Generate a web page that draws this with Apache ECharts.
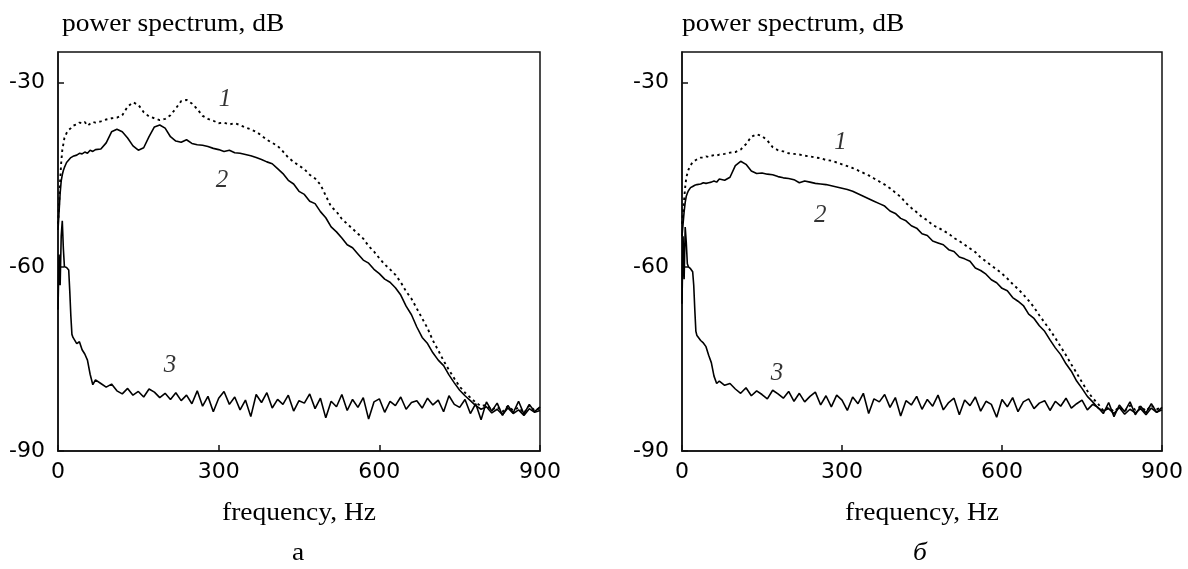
<!DOCTYPE html>
<html>
<head>
  <meta charset="utf-8">
  <title>power spectrum</title>
  <script src="https://cdn.jsdelivr.net/npm/echarts@6/dist/echarts.min.js"></script>
  <style>
    html, body { margin: 0; padding: 0; background: #fff; }
    #chart { width: 1188px; height: 569px; }
  </style>
</head>
<body>
<div id="chart"></div>
<script>
// частоты, Гц (мелкий шаг в начале, дальше через 10)
const freq = [0, 2, 4, 6, 8, 10, 12, 14, 16, 18, 20, 22, 24, 26, 28, 30, 35, 40, 45, 50, 55, 60, 65, 70,
  80, 90, 100, 110, 120, 130, 140, 150, 160, 170,
  180, 190, 200, 210, 220, 230, 240, 250, 260, 270,
  280, 290, 300, 310, 320, 330, 340, 350, 360, 370,
  380, 390, 400, 410, 420, 430, 440, 450, 460, 470,
  480, 490, 500, 510, 520, 530, 540, 550, 560, 570,
  580, 590, 600, 610, 620, 630, 640, 650, 660, 670,
  680, 690, 700, 710, 720, 730, 740, 750, 760, 770,
  780, 790, 800, 810, 820, 830, 840, 850, 860, 870,
  880, 890, 900];

// панель а
const a1 = [-53, -50, -46, -43, -41, -40, -39, -38.6, -38.2, -38, -37.7, -37.6, -37.4, -37.2, -37.0, -36.9, -36.8, -36.5, -36.6, -36.4, -37.0, -36.7, -36.4, -36.5,
  -36.3, -36.0, -35.8, -35.7, -35.3, -33.9, -33.2, -33.6, -34.8, -35.5,
  -35.8, -36.1, -35.9, -35.3, -34.2, -33.0, -32.8, -33.4, -34.3, -35.4,
  -35.9, -36.2, -36.6, -36.5, -36.8, -36.6, -36.9, -37.3, -37.6, -38.0,
  -38.6, -39.3, -39.8, -40.3, -41.2, -42.2, -42.9, -43.5, -44.1, -45.0,
  -45.6, -46.6, -48.4, -50.2, -51.0, -52.2, -53.0, -53.8, -54.6, -55.4,
  -56.6, -57.5, -58.6, -59.6, -60.4, -61.3, -62.5, -64.0, -65.2, -66.8,
  -68.4, -70.0, -72.0, -73.6, -75.3, -76.8, -78.2, -79.5, -80.5, -81.3,
  -82.1, -82.7, -82.5, -83.3, -82.8, -83.6, -82.7, -83.4, -82.9, -83.8,
  -82.6, -83.4, -83.0];
const a2 = [-54, -51, -48, -46, -45, -44.3, -43.8, -43.4, -43.0, -42.8, -42.6, -42.4, -42.2, -42.3, -42.0, -41.9, -41.8, -41.5, -41.6, -41.3, -41.5, -41.0, -41.2, -40.9,
  -40.8, -39.8, -38.0, -37.6, -38.0, -39.0, -40.3, -41.0, -40.6, -38.8,
  -37.2, -36.9, -37.4, -38.8, -39.5, -39.7, -39.3, -39.9, -40.1, -40.2,
  -40.4, -40.7, -40.9, -41.2, -41.0, -41.4, -41.5, -41.7, -41.9, -42.2,
  -42.5, -42.9, -43.2, -44.0, -44.8, -45.9, -46.5, -47.7, -48.2, -49.3,
  -49.7, -51.0, -52.0, -53.5, -54.3, -55.3, -56.4, -56.9, -57.9, -58.9,
  -59.4, -60.4, -61.1, -62.0, -62.5, -63.4, -64.6, -66.4, -67.8, -69.8,
  -71.5, -72.5, -74.0, -75.2, -76.1, -77.6, -78.9, -80.1, -81.0, -81.8,
  -82.6, -83.2, -82.8, -83.8, -83.2, -84.1, -83.0, -83.9, -83.3, -84.2,
  -83.1, -83.7, -83.4];
const a3 = [-67, -58, -63, -55, -52.5, -57, -60, -60.2, -60.1, -60.3, -60.5, -64, -68, -71, -71.5, -71.8, -72.5, -72.2, -73.5, -74.2, -75.2, -77.5, -79.2, -78.4,
  -79.0, -79.6, -79.1, -80.2, -80.7, -79.8, -80.9, -80.3, -81.2, -79.9,
  -80.4, -81.3, -80.6, -81.6, -80.5, -81.8, -80.9, -82.3, -80.2, -82.7,
  -81.1, -83.6, -81.4, -80.3, -82.4, -81.2, -83.3, -81.7, -84.4, -80.8,
  -82.1, -80.5, -83.0, -81.6, -82.4, -80.9, -83.5, -81.8, -82.2, -80.7,
  -83.1, -81.4, -84.6, -81.9, -82.8, -80.8, -83.4, -81.6, -82.9, -81.3,
  -84.8, -82.0, -81.5, -83.7, -81.9, -82.6, -81.2, -83.2, -82.1, -81.8,
  -83.0, -81.4, -82.5, -81.7, -83.6, -81.0, -82.4, -82.9, -81.6, -83.9,
  -82.3, -84.9, -82.0, -83.5, -82.2, -84.2, -82.6, -83.8, -81.9, -84.0,
  -82.4, -83.6, -82.8];

// панель б
const b1 = [-53, -51, -49, -47, -45.5, -44.8, -44.2, -43.8, -43.5, -43.2, -43.0, -42.8, -42.7, -42.6, -42.5, -42.4, -42.2, -42.2, -42.0, -42.1, -41.9, -41.8, -41.9, -41.7,
  -41.6, -41.4, -41.3, -40.9, -40.0, -38.8, -38.4, -38.7, -39.4, -40.5,
  -41.0, -41.2, -41.5, -41.6, -41.7, -41.9, -42.0, -42.2, -42.3, -42.6,
  -42.7, -43.0, -43.3, -43.6, -43.9, -44.3, -44.7, -45.1, -45.6, -46.1,
  -46.6, -47.2, -47.9, -48.6, -49.6, -50.4, -51.1, -51.9, -52.4, -53.2,
  -53.6, -54.1, -54.6, -55.3, -55.8, -56.4, -57.0, -57.6, -58.5, -59.1,
  -59.8, -60.4, -61.1, -61.9, -62.8, -63.6, -64.5, -65.5, -66.6, -67.9,
  -69.1, -70.3, -71.6, -73.0, -74.4, -75.9, -77.3, -78.8, -80.2, -81.4,
  -82.3, -83.4, -82.9, -83.6, -82.8, -83.5, -82.6, -83.3, -82.7, -83.5,
  -82.6, -83.2, -82.9];
const b2 = [-55, -53, -51, -49.5, -48.5, -48.0, -47.6, -47.3, -47.1, -47.0, -46.9, -46.8, -46.7, -46.6, -46.6, -46.5, -46.5, -46.3, -46.4, -46.3, -46.2, -46.0, -46.2, -45.7,
  -45.9, -45.4, -43.5, -42.8, -43.3, -44.4, -44.8, -44.7, -44.9, -45.0,
  -45.3, -45.5, -45.6, -45.8, -46.3, -46.0, -46.2, -46.4, -46.5, -46.6,
  -46.8, -47.0, -47.2, -47.4, -47.7, -48.1, -48.5, -48.9, -49.3, -49.7,
  -50.1, -50.9, -51.3, -52.1, -52.5, -53.3, -53.7, -54.6, -54.9, -55.8,
  -56.1, -56.4, -57.2, -57.5, -58.4, -58.7, -59.1, -60.2, -60.6, -61.2,
  -62.1, -62.6, -63.5, -63.9, -65.0, -65.6, -66.3, -67.7, -68.4, -69.6,
  -70.5, -71.9, -73.2, -74.3, -75.8, -77.0, -78.6, -79.8, -81.1, -82.0,
  -83.0, -83.5, -83.1, -83.9, -82.9, -84.0, -83.2, -83.8, -83.1, -84.1,
  -83.0, -83.7, -83.3];
const b3 = [-66, -55, -62, -53.5, -56, -59.5, -60, -60.1, -60.3, -60.4, -60.8, -63, -67, -70.5, -71.2, -71.5, -72.0, -72.4, -73.0, -74.4, -75.6, -77.8, -79.0, -78.6,
  -79.3, -79.0, -79.9, -80.6, -79.7, -81.0, -80.2, -80.8, -81.5, -80.1,
  -80.7, -81.4, -80.3, -81.9, -80.6, -82.0, -81.1, -80.4, -82.5, -81.0,
  -82.8, -80.9, -81.7, -83.4, -81.2, -82.3, -80.6, -83.9, -81.5, -82.0,
  -80.8, -82.9, -81.3, -84.3, -81.8, -82.5, -81.1, -83.2, -81.6, -82.7,
  -80.9, -83.3, -82.1, -81.4, -84.1, -81.7, -82.6, -81.2, -83.5, -81.9,
  -82.4, -84.5, -81.6, -82.8, -81.3, -83.6, -82.0, -81.5, -83.1, -82.2,
  -81.8, -83.4, -81.9, -82.7, -81.4, -83.0, -82.3, -81.7, -83.3, -82.4,
  -82.9, -83.9, -82.1, -84.4, -82.5, -83.6, -82.0, -84.1, -82.7, -83.8,
  -82.3, -83.7, -82.9];

// номера кривых: [частота, дБ, текст]
const marksA = [[312, -32.8, '1'], [306, -45.9, '2'], [209, -76.1, '3']];
const marksB = [[297, -39.7, '1'], [259, -51.6, '2'], [178, -77.4, '3']];

const yTicks = [-90, -60, -30];

function pairs(vals) {
  return freq.map(function (f, i) { return [f, vals[i]]; });
}

const grids = [
  { left: 58, top: 52, width: 482, height: 399 },
  { left: 682, top: 52, width: 480, height: 399 }
];

function xAxisFor(i) {
  return {
    gridIndex: i, type: 'value', min: 0, max: 900, interval: 300,
    axisLine: { show: true, lineStyle: { color: '#111', width: 1.5 } },
    axisTick: { show: true, inside: true, length: 6, lineStyle: { color: '#111', width: 1.5 } },
    axisLabel: { color: '#000', fontFamily: 'DejaVu Sans', fontSize: 22, margin: 10 },
    splitLine: { show: false }
  };
}
function yAxisFor(i) {
  return {
    gridIndex: i, type: 'value', min: -90, max: -25, interval: 30,
    axisLine: { show: true, lineStyle: { color: '#111', width: 1.5 } },
    axisTick: { show: true, inside: true, length: 6, lineStyle: { color: '#111', width: 1.5 } },
    axisLabel: {
      color: '#000', fontFamily: 'DejaVu Sans', fontSize: 22, margin: 13, showMaxLabel: false,
      formatter: function (v) { return yTicks.indexOf(v) >= 0 ? String(v) : ''; }
    },
    splitLine: { show: false }
  };
}

function solid(idx, vals) {
  return {
    type: 'line', xAxisIndex: idx, yAxisIndex: idx, data: pairs(vals),
    showSymbol: false, animation: false,
    lineStyle: { color: '#000', width: 1.6 }
  };
}
function dotted(idx, vals) {
  return {
    type: 'line', xAxisIndex: idx, yAxisIndex: idx, data: pairs(vals),
    showSymbol: false, animation: false,
    lineStyle: { color: '#000', width: 1.9, type: [2.5, 3.5] }
  };
}
function marks(idx, list) {
  return {
    type: 'scatter', xAxisIndex: idx, yAxisIndex: idx, data: list,
    symbolSize: 0, animation: false, silent: true,
    label: {
      show: true, position: 'inside', color: '#000',
      fontFamily: 'Liberation Serif', fontStyle: 'italic', fontSize: 25,
      formatter: function (p) { return p.value[2]; }
    }
  };
}

function txt(x, y, s, opts) {
  opts = opts || {};
  return {
    type: 'text', x: x, y: y, scaleX: opts.sx || 1.1, silent: true,
    style: {
      text: s, fill: '#000',
      font: (opts.italic ? 'italic ' : '') + (opts.size || 25) + 'px "Liberation Serif"',
      align: opts.align || 'left', verticalAlign: 'middle'
    }
  };
}

const chart = echarts.init(document.getElementById('chart'));
chart.setOption({
  backgroundColor: '#fff',
  animation: false,
  grid: grids.map(function (g) {
    return Object.assign({ show: true, borderColor: '#111', borderWidth: 1.5, backgroundColor: 'transparent' }, g);
  }),
  xAxis: [xAxisFor(0), xAxisFor(1)],
  yAxis: [yAxisFor(0), yAxisFor(1)],
  series: [
    dotted(0, a1), solid(0, a2), solid(0, a3), marks(0, marksA),
    dotted(1, b1), solid(1, b2), solid(1, b3), marks(1, marksB)
  ],
  graphic: [
    txt(62, 24, 'power spectrum, dB'),
    txt(682, 24, 'power spectrum, dB'),
    txt(299, 513, 'frequency, Hz', { align: 'center' }),
    txt(922, 513, 'frequency, Hz', { align: 'center' }),
    txt(298, 553, 'а', { align: 'center', sx: 1.1, size: 25 }),
    txt(920, 553, 'б', { align: 'center', sx: 1.1, size: 25, italic: true })
  ]
});
</script>
</body>
</html>
